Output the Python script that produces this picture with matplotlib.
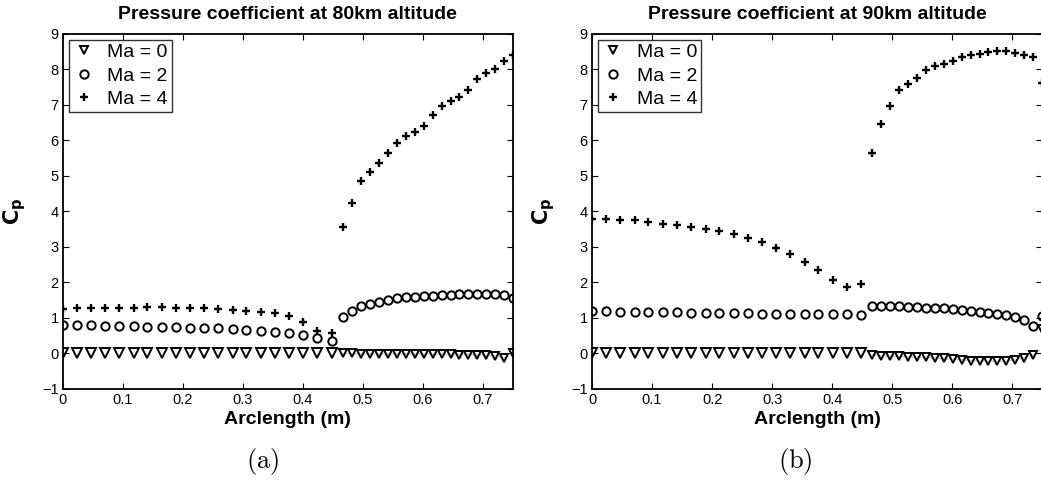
import matplotlib
matplotlib.use("Agg")
import matplotlib.pyplot as plt
from matplotlib.lines import Line2D

# ---------------- data ----------------
x_seg1 = [0.000, 0.024, 0.047, 0.071, 0.094, 0.118, 0.141, 0.165, 0.189, 0.212,
          0.236, 0.259, 0.283, 0.306, 0.330, 0.354, 0.377, 0.401, 0.424, 0.448]
x_seg2 = [0.467, 0.482, 0.497, 0.512, 0.527, 0.541, 0.556, 0.571, 0.586, 0.601,
          0.616, 0.631, 0.646, 0.660, 0.675, 0.690, 0.705, 0.720, 0.735, 0.750]

# 80 km altitude
a_ma0_s1 = [0.00] * 20
a_ma0_s2 = [0.00, 0.00, -0.01, -0.01, -0.01, -0.01, -0.01, -0.01, -0.01, -0.02,
            -0.02, -0.02, -0.02, -0.03, -0.03, -0.04, -0.05, -0.07, -0.12, 0.00]
a_ma2_s1 = [0.79, 0.79, 0.79, 0.78, 0.78, 0.77, 0.76, 0.75, 0.74, 0.73,
            0.72, 0.71, 0.69, 0.66, 0.64, 0.61, 0.57, 0.52, 0.45, 0.35]
a_ma2_s2 = [1.03, 1.21, 1.33, 1.40, 1.46, 1.51, 1.55, 1.58, 1.60, 1.61,
            1.63, 1.65, 1.66, 1.67, 1.68, 1.68, 1.68, 1.67, 1.66, 1.55]
a_ma4_s1 = [1.25, 1.27, 1.27, 1.27, 1.28, 1.29, 1.30, 1.30, 1.29, 1.28,
            1.27, 1.25, 1.22, 1.20, 1.18, 1.13, 1.05, 0.90, 0.64, 0.59]
a_ma4_s2 = [3.56, 4.24, 4.85, 5.12, 5.37, 5.65, 5.93, 6.14, 6.24, 6.42,
            6.73, 6.96, 7.10, 7.22, 7.43, 7.72, 7.90, 8.01, 8.24, 8.42]

# 90 km altitude
b_ma0_s1 = [0.00] * 20
b_ma0_s2 = [-0.03, -0.07, -0.08, -0.08, -0.09, -0.10, -0.11, -0.12, -0.14, -0.16,
            -0.18, -0.20, -0.21, -0.22, -0.22, -0.21, -0.18, -0.12, -0.03, 0.68]
b_ma2_s1 = [1.20, 1.19, 1.18, 1.18, 1.17, 1.16, 1.16, 1.15, 1.14, 1.14,
            1.13, 1.13, 1.12, 1.12, 1.11, 1.11, 1.11, 1.11, 1.10, 1.09]
b_ma2_s2 = [1.33, 1.35, 1.34, 1.33, 1.32, 1.31, 1.29, 1.28, 1.27, 1.25,
            1.22, 1.19, 1.17, 1.14, 1.11, 1.08, 1.03, 0.95, 0.78, 1.05]
b_ma4_s1 = [3.80, 3.79, 3.77, 3.75, 3.70, 3.66, 3.61, 3.56, 3.51, 3.44,
            3.36, 3.26, 3.13, 2.98, 2.81, 2.59, 2.35, 2.06, 1.87, 1.95]
b_ma4_s2 = [5.66, 6.46, 6.97, 7.41, 7.58, 7.75, 7.99, 8.10, 8.16, 8.25,
            8.36, 8.42, 8.44, 8.49, 8.51, 8.52, 8.47, 8.42, 8.36, 7.61]

titles = ["Pressure coefficient at 80km altitude", "Pressure coefficient at 90km altitude"]
captions = ["(a)", "(b)"]
legend_labels = ["Ma = 0", "Ma = 2", "Ma = 4"]
xticks = [0, 0.1, 0.2, 0.3, 0.4, 0.5, 0.6, 0.7]
xticklabels = ["0", "0.1", "0.2", "0.3", "0.4", "0.5", "0.6", "0.7"]
yticks = [-1, 0, 1, 2, 3, 4, 5, 6, 7, 8, 9]
yticklabels = ["\u22121", "0", "1", "2", "3", "4", "5", "6", "7", "8", "9"]

panels = [
    (a_ma0_s1, a_ma0_s2, a_ma2_s1, a_ma2_s2, a_ma4_s1, a_ma4_s2),
    (b_ma0_s1, b_ma0_s2, b_ma2_s1, b_ma2_s2, b_ma4_s1, b_ma4_s2),
]

# ---------------- figure ----------------
plt.rcParams['font.family'] = ['Liberation Sans', 'DejaVu Sans']
fig = plt.figure(figsize=(10.41, 4.88), dpi=100)

ax_w, ax_h, ax_b = 0.4326, 0.7275, 0.2029
lefts = [0.0602, 0.5687]
cap_x = [0.252, 0.764]

tri = dict(marker='v', linestyle='none', mfc='none', mec='black', mew=1.4)
circ = dict(marker='o', linestyle='none', mfc='none', mec='black', mew=1.4, ms=6)
plus = dict(marker='+', linestyle='none', color='black', mew=1.7, ms=5.5)

for i, (m0s1, m0s2, m2s1, m2s2, m4s1, m4s2) in enumerate(panels):
    ax = fig.add_axes([lefts[i], ax_b, ax_w, ax_h])
    ax.plot(x_seg2[:-1], m0s2[:-1], '-', color='0.8', lw=1.0, zorder=1)
    ax.plot(x_seg1, m0s1, ms=6.5, **tri, zorder=3)
    ax.plot(x_seg2, m0s2, ms=5.5, **tri, zorder=3)
    ax.plot(x_seg1, m2s1, **circ, zorder=3)
    ax.plot(x_seg2, m2s2, **circ, zorder=3)
    ax.plot(x_seg1, m4s1, **plus, zorder=3)
    ax.plot(x_seg2, m4s2, **plus, zorder=3)

    ax.set_xlim(0, 0.75)
    ax.set_ylim(-1, 9)
    ax.set_xticks(xticks)
    ax.set_xticklabels(xticklabels)
    ax.set_yticks(yticks)
    ax.set_yticklabels(yticklabels)
    ax.tick_params(direction='in', top=True, right=True, length=4, width=0.8,
                   labelsize=10.5, pad=3)
    for sp in ax.spines.values():
        sp.set_linewidth(1.3)
        sp.set_zorder(5)

    ax.set_title(titles[i], fontsize=14, fontweight='bold', pad=11)
    ax.set_xlabel("Arclength (m)", fontsize=14, fontweight='bold', labelpad=3)
    ax.set_ylabel(r"$\mathbf{C_p}$", fontsize=15, math_fontfamily='dejavusans')
    ax.yaxis.set_label_coords(-0.078, 0.5)

    handles = [
        Line2D([], [], ms=6, **tri),
        Line2D([], [], **circ),
        Line2D([], [], **plus),
    ]
    leg = ax.legend(handles, legend_labels, loc='upper left', fontsize=14,
                    frameon=True, fancybox=False, edgecolor='black',
                    borderaxespad=0.3, handlelength=1.2, handletextpad=0.6,
                    borderpad=0.2, labelspacing=0.3)
    leg.get_frame().set_linewidth(1.0)

    fig.text(cap_x[i], 0.055, r"$\mathrm{" + captions[i] + "}$", fontsize=19,
             ha='center', va='center', math_fontfamily='cm')

fig.savefig("out.png", dpi=100)
